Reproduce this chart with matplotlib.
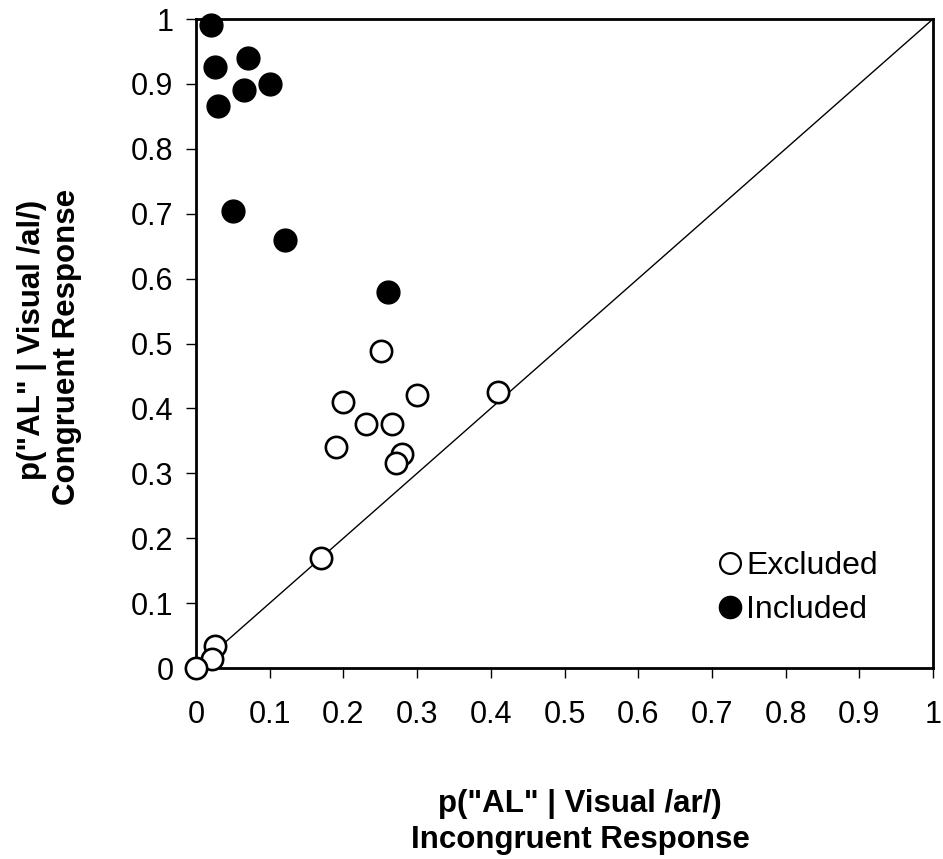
import matplotlib
matplotlib.use("Agg")
import matplotlib.pyplot as plt
from matplotlib.lines import Line2D

plt.rcParams['font.family'] = ['Liberation Sans', 'DejaVu Sans']

# Excluded (open circles)
excl_x = [0.251, 0.20, 0.30, 0.23, 0.266, 0.19, 0.28, 0.271, 0.41, 0.17, 0.026, 0.022, 0.0]
excl_y = [0.488, 0.41, 0.42, 0.376, 0.376, 0.34, 0.33, 0.316, 0.425, 0.17, 0.034, 0.014, 0.0]
# Included (filled circles)
incl_x = [0.02, 0.026, 0.03, 0.07, 0.065, 0.10, 0.05, 0.121, 0.26]
incl_y = [0.991, 0.926, 0.866, 0.94, 0.89, 0.90, 0.704, 0.66, 0.58]

ticks = [0, 0.1, 0.2, 0.3, 0.4, 0.5, 0.6, 0.7, 0.8, 0.9, 1]
tick_labels = ["0", "0.1", "0.2", "0.3", "0.4", "0.5", "0.6", "0.7", "0.8", "0.9", "1"]

W, H = 943, 859
fig = plt.figure(figsize=(W / 100, H / 100), dpi=100)
ax = fig.add_axes([196 / W, 1 - 668 / H, (933 - 196) / W, (668 - 19) / H])

ax.plot([0, 1], [0, 1], color='black', lw=1.0, zorder=1)
ax.scatter(excl_x, excl_y, s=235, facecolor='white', edgecolor='black', linewidths=1.9, zorder=3, clip_on=False)
ax.scatter(incl_x, incl_y, s=270, facecolor='black', edgecolor='black', linewidths=1.0, zorder=3, clip_on=False)

ax.set_xlim(0, 1)
ax.set_ylim(0, 1)
ax.set_xticks(ticks)
ax.set_xticklabels(tick_labels)
ax.set_yticks(ticks)
ax.set_yticklabels(tick_labels)
ax.tick_params(axis='both', direction='out', length=7.2, width=1.0, labelsize=22, colors='black')
ax.tick_params(axis='x', pad=16)
ax.tick_params(axis='y', pad=9)
for side in ['left', 'bottom', 'top', 'right']:
    ax.spines[side].set_linewidth(2.0)
    ax.spines[side].set_color('black')

# x label (two lines, bold)
fig.text(580 / W, 1 - 812 / H, 'p("AL" | Visual /ar/)', ha='center', va='baseline',
         fontsize=22.5, fontweight='bold')
fig.text(580 / W, 1 - 848 / H, 'Incongruent Response', ha='center', va='baseline',
         fontsize=22.5, fontweight='bold')
# y label (two lines, bold, rotated)
fig.text(40 / W, 1 - 340 / H, 'p("AL" | Visual /al/)', ha='center', va='baseline',
         fontsize=22.5, fontweight='bold', rotation=90, rotation_mode='anchor')
fig.text(75 / W, 1 - 347 / H, 'Congruent Response', ha='center', va='baseline',
         fontsize=22.5, fontweight='bold', rotation=90, rotation_mode='anchor')

handles = [
    Line2D([], [], marker='o', linestyle='none', markersize=15, markerfacecolor='white',
           markeredgecolor='black', markeredgewidth=1.6, label='Excluded'),
    Line2D([], [], marker='o', linestyle='none', markersize=16, markerfacecolor='black',
           markeredgecolor='black', label='Included'),
]
leg = ax.legend(handles=handles, loc='upper left', bbox_to_anchor=(718 / W, 1 - 551 / H),
                bbox_transform=fig.transFigure, frameon=False, fontsize=23,
                handletextpad=0.1, handlelength=0.78, labelspacing=0.45,
                borderpad=0, borderaxespad=0)

fig.savefig('out.png', dpi=100)
